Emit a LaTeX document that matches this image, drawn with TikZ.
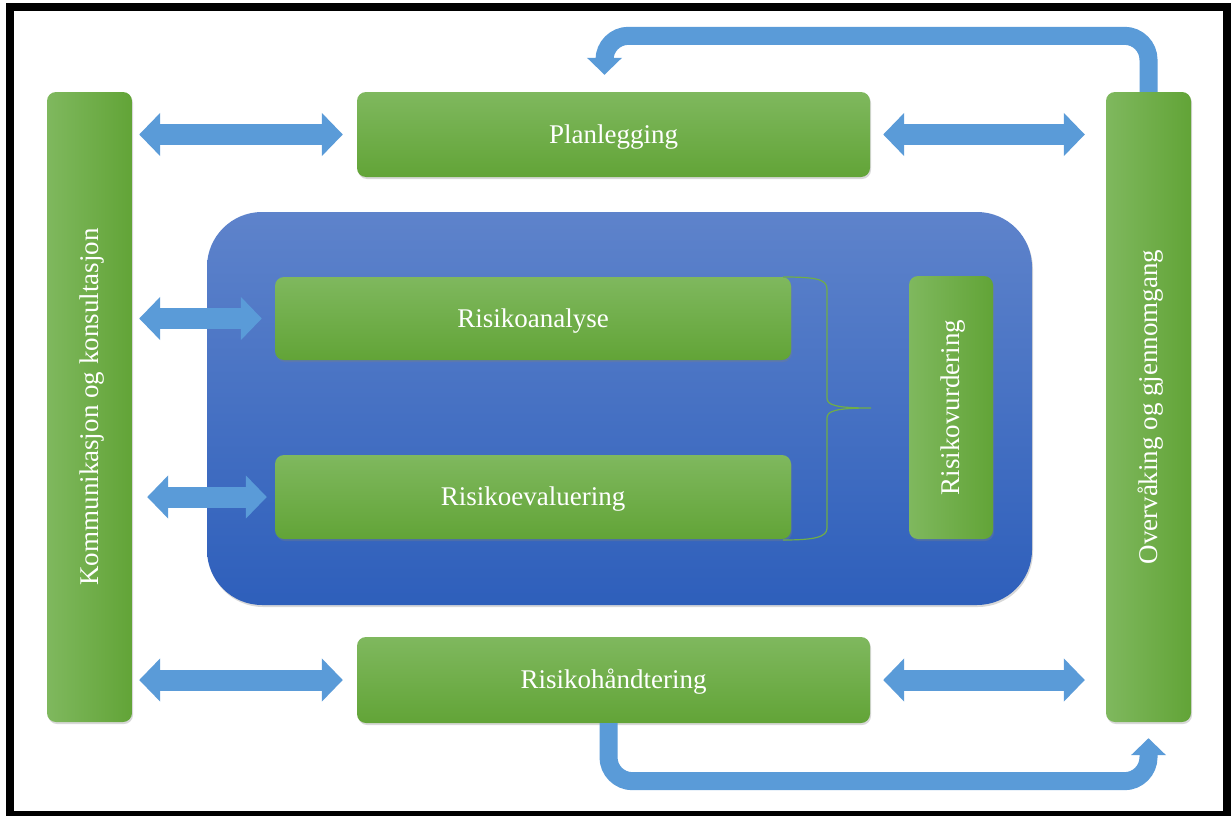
\documentclass[tikz,border=0pt]{standalone}
\usepackage{fontspec}
\setmainfont{Liberation Serif}
\usetikzlibrary{arrows.meta,calc,shadows}
\definecolor{greenTop}{HTML}{7FB85E}
\definecolor{greenBot}{HTML}{62A437}
\definecolor{arrowBlue}{HTML}{5A9BD8}
\definecolor{blueTop}{HTML}{5E83CB}
\definecolor{blueBot}{HTML}{2E5FBB}
\definecolor{braceGreen}{HTML}{70AD47}
\begin{document}
\begin{tikzpicture}[x=1pt,y=-1pt,
  gbox/.style={draw=none, rounded corners=9pt, top color=greenTop, bottom color=greenBot,
    text=white, font=\fontsize{27}{32}\selectfont, inner sep=0pt,
    text height=19pt, text depth=2pt,
    drop shadow={shadow xshift=1pt, shadow yshift=-2pt, opacity=0.3}},
  vbox/.style={gbox, rotate=90, left color=greenTop, right color=greenBot},
  bluebox/.style={draw=none, rounded corners=55pt, top color=blueTop, bottom color=blueBot,
    inner sep=0pt, drop shadow={shadow xshift=1pt, shadow yshift=-2pt, opacity=0.3}},
  dbl/.style={draw=arrowBlue, line width=21pt,
    {Triangle[length=21pt,width=42pt]}-{Triangle[length=21pt,width=42pt]}},
  bentarrow/.style={draw=arrowBlue, line width=18pt, rounded corners=24pt,
    -{Triangle[length=17pt,width=34pt]}},
  bracestyle/.style={draw=braceGreen, line width=1.2pt}
]
\useasboundingbox (0,0) rectangle (1231,816);
\fill[white] (0,0) rectangle (1231,816);
\draw[line width=8pt] (10,7) rectangle (1226.5,815);

% blue container
\node[bluebox, minimum width=825pt, minimum height=393pt] (core) at (619.5,408.5) {};

% green boxes
\node[vbox, minimum width=630pt, minimum height=85pt] (komm) at (89.5,407) {Kommunikasjon og konsultasjon};
\node[vbox, minimum width=630pt, minimum height=85pt] (ov) at (1148.5,407) {Overvåking og gjennomgang};
\node[gbox, minimum width=513pt, minimum height=85pt] (plan) at (613.5,134.5) {Planlegging};
\node[gbox, minimum width=513pt, minimum height=86pt] (hand) at (613.5,680) {Risikohåndtering};
\node[gbox, minimum width=516pt, minimum height=83pt] (analyse) at (533,318.5) {Risikoanalyse};
\node[gbox, minimum width=516pt, minimum height=84pt] (eval) at (533,497) {Risikoevaluering};
\node[vbox, minimum width=263pt, minimum height=84pt] (vurd) at (951,407.5) {Risikovurdering};

% double arrows
\draw[dbl] ($(komm.south |- plan.west)+(7,0)$) -- ($(plan.west)+(-14,0)$);
\draw[dbl] ($(plan.east)+(13,0)$) -- ($(ov.north |- plan.east)+(-21,0)$);
\draw[dbl] ($(komm.south |- analyse.west)+(7,0)$) -- ($(analyse.west)+(-13,0)$);
\draw[dbl] ($(komm.south |- eval.west)+(15,0)$) -- ($(eval.west)+(-8,0)$);
\draw[dbl] ($(komm.south |- hand.west)+(7,0)$) -- ($(hand.west)+(-14,0)$);
\draw[dbl] ($(hand.east)+(13,0)$) -- ($(ov.north |- hand.east)+(-21,0)$);

% feedback arrows
\draw[bentarrow] (ov.east) -- ++(0,-56) -| ($(plan.north)+(-9,-17)$);
\draw[bentarrow] ($(hand.south)+(-5,0)$) -- ++(0,58) -| ($(ov.west)+(0,16)$);

% brace
\draw[bracestyle] (783,277) .. controls (815,277) and (827,279) .. (827,289)
  -- (827,398) .. controls (827,405) and (835,408) .. (871,408)
  .. controls (835,408) and (827,411) .. (827,418)
  -- (827,528) .. controls (827,537) and (815,540) .. (783,540);
\end{tikzpicture}
\end{document}
